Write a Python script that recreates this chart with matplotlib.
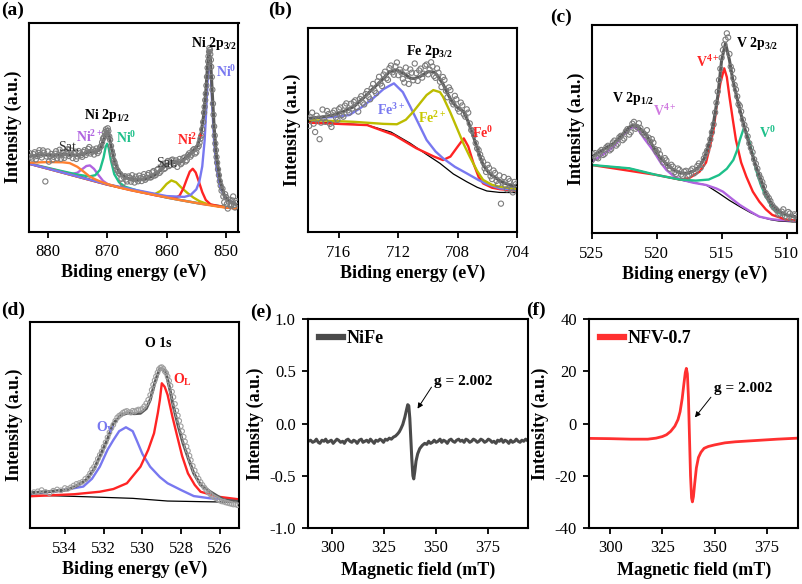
import matplotlib
matplotlib.use('Agg')
import matplotlib.pyplot as plt
from matplotlib.lines import Line2D

plt.rcParams['font.family'] = ['Liberation Serif', 'DejaVu Serif']
plt.rcParams['mathtext.fontset'] = 'custom'
plt.rcParams['mathtext.rm'] = 'Liberation Serif:bold'
plt.rcParams['mathtext.it'] = 'Liberation Serif:bold'
plt.rcParams['mathtext.bf'] = 'Liberation Serif:bold'
plt.rcParams['mathtext.default'] = 'bf'
plt.rcParams['axes.unicode_minus'] = False

# colours
BLUE = '#7878f0'
RED = '#ff2424'
OLIVE = '#bcbc00'
TEAL = '#1ec08a'
PURPLE = '#b064e0'
ORANGE = '#ff8030'
ENV = '#5a5a5a'
DOT = '#7c7c7c'

# ---------------- (a) Ni 2p  (eV, intensity in % of axis height) ----------------
a_base = [(883.1, 32.5), (878, 29.0), (874, 26.0), (870, 22.5), (866, 19.8), (862, 17.5),
          (858, 15.2), (854, 13.2), (851, 11.8), (847.9, 11.0)]
a_ni0_32 = [(883.1, 32.5), (870, 22.6), (860, 17.0), (857, 16.6), (856, 17.4), (855, 20.2),
            (854.5, 23.8), (854, 31.2), (853.6, 43.7), (853.3, 59.8), (853.0, 78.2), (852.8, 83.4),
            (852.6, 78.0), (852.3, 59.3), (852.0, 43.0), (851.6, 30.1), (851.0, 21.1), (850.0, 15.7),
            (847.9, 12.4)]
a_ni2_32 = [(883.1, 32.5), (870, 22.5), (862, 17.5), (858.6, 15.9), (857.8, 17.3), (857.2, 20.5),
            (856.6, 25.1), (856.1, 28.7), (855.6, 30.1), (855.1, 28.3), (854.6, 24.2), (854.0, 18.9),
            (853.4, 15.1), (852.6, 13.0), (850, 11.5), (847.9, 11.0)]
a_sat_32 = [(883.1, 32.5), (870, 22.5), (864, 18.7), (862, 17.9), (861, 19.5), (860, 22.8),
            (859.2, 24.5), (858.4, 23.6), (857.5, 21.0), (856.5, 18.5), (855.5, 16.3), (854.5, 14.6),
            (853, 13.0), (851, 11.9), (847.9, 11.0)]
a_ni0_12 = [(883.1, 32.6), (878, 29.2), (875, 27.3), (873, 26.4), (872, 27.0), (871.2, 29.6),
            (870.6, 35.5), (870.25, 40.6), (870.0, 42.1), (869.75, 40.2), (869.4, 34.5), (868.8, 27.5),
            (868, 23.6), (867, 21.5), (865, 19.7), (860, 16.3), (855, 13.7), (847.9, 11.0)]
a_ni2_12 = [(883.1, 32.5), (878, 29.0), (876, 27.6), (875, 28.2), (874.2, 29.9), (873.5, 31.4),
            (872.9, 31.7), (872.2, 30.0), (871.5, 27.2), (870.7, 24.3), (869.8, 22.5), (866, 19.8),
            (860, 16.3), (854, 13.2), (847.9, 11.0)]
a_sat_12 = [(883.1, 33.0), (880, 33.3), (877.5, 33.2), (876.3, 32.8), (875, 31.0), (874, 28.8),
            (873, 26.5), (872, 25.0), (871, 23.8), (870, 22.8), (868, 21.1), (866, 19.8), (862, 17.5),
            (858, 15.2), (854, 13.2), (851, 11.8), (847.9, 11.0)]
a_env = [(883.1, 36.0), (881, 36.8), (879, 36.5), (877, 37.0), (875, 36.5), (874, 37.0), (873, 38.3),
         (872, 38.0), (871.2, 39.5), (870.6, 44.0), (870.25, 47.0), (870.0, 48.0), (869.7, 46.5),
         (869.3, 40.5), (868.7, 33.0), (868, 28.5), (867, 26.0), (866, 25.0), (865, 24.8), (864, 25.0),
         (863, 25.8), (862, 27.0), (861, 29.5), (860, 32.0), (859.2, 33.3), (858.4, 33.0),
         (857.5, 33.5), (856.6, 36.0), (855.6, 38.5), (854.8, 41.0), (854.2, 47.0), (853.8, 55.0),
         (853.4, 67.0), (853.1, 80.0), (852.85, 86.5), (852.6, 82.0), (852.3, 66.0), (852.0, 50.0),
         (851.6, 36.0), (851.0, 24.5), (850.3, 17.5), (849.5, 14.5), (847.9, 12.5)]
a_data = [(883.0, 37.5), (882.8, 35.9), (882.6, 35.0), (882.4, 37.1), (882.2, 38.0), (882.0, 34.6),
          (881.8, 36.2), (881.6, 37.7), (881.4, 39.0), (881.2, 36.8), (881.0, 35.5), (880.8, 38.9),
          (880.6, 37.8), (880.4, 24.0), (880.2, 36.0), (880.0, 38.4), (879.8, 33.5), (879.6, 36.1),
          (879.4, 37.2), (879.2, 34.4), (879.0, 35.8), (878.8, 37.3), (878.6, 38.5), (878.4, 35.1),
          (878.2, 36.4), (878.0, 39.2), (877.8, 34.9), (877.6, 36.9), (877.4, 38.0), (877.2, 35.3),
          (877.0, 36.5), (876.8, 38.1), (876.6, 39.5), (876.4, 36.2), (876.2, 37.0), (876.0, 38.8),
          (875.8, 35.2), (875.6, 37.4), (875.4, 38.3), (875.2, 34.8), (875.0, 36.0), (874.8, 38.6),
          (874.6, 37.5), (874.4, 36.6), (874.2, 35.8), (874.0, 38.1), (873.8, 39.0), (873.6, 36.7),
          (873.4, 37.8), (873.2, 39.6), (873.0, 40.5), (872.8, 37.4), (872.6, 38.2), (872.4, 39.3),
          (872.2, 36.9), (872.0, 38.6), (871.8, 39.8), (871.6, 37.6), (871.4, 38.5), (871.2, 40.3),
          (871.0, 41.0), (870.85, 42.8), (870.7, 44.5), (870.55, 45.2), (870.4, 47.5), (870.3, 46.2),
          (870.2, 49.0), (870.1, 48.1), (870.0, 47.0), (869.9, 49.5), (869.8, 48.2), (869.65, 45.6),
          (869.5, 44.0), (869.35, 41.0), (869.2, 38.5), (869.05, 36.8), (868.9, 34.0), (868.75, 33.1),
          (868.6, 31.5), (868.4, 29.8), (868.2, 29.0), (868.0, 27.9), (867.8, 27.5), (867.6, 25.4),
          (867.4, 23.0), (867.2, 26.1), (867.0, 26.5), (866.8, 24.9), (866.6, 24.0), (866.4, 26.4),
          (866.2, 25.8), (866.0, 23.9), (865.8, 27.0), (865.6, 25.2), (865.4, 23.5), (865.2, 26.3),
          (865.0, 25.0), (864.8, 24.1), (864.6, 26.8), (864.4, 25.6), (864.2, 24.2), (864.0, 26.2),
          (863.8, 27.5), (863.6, 24.8), (863.4, 25.5), (863.2, 27.1), (863.0, 28.0), (862.8, 25.9),
          (862.6, 26.0), (862.4, 28.4), (862.2, 29.0), (862.0, 26.8), (861.8, 27.2), (861.6, 29.6),
          (861.4, 30.0), (861.2, 28.1), (861.0, 28.8), (860.8, 31.2), (860.6, 32.5), (860.4, 30.0),
          (860.2, 30.5), (860.0, 33.1), (859.8, 33.8), (859.6, 31.4), (859.4, 31.9), (859.2, 34.2),
          (859.0, 34.5), (858.8, 32.0), (858.6, 32.8), (858.4, 34.1), (858.2, 31.0), (858.0, 33.4),
          (857.8, 34.8), (857.6, 32.3), (857.4, 33.0), (857.2, 35.1), (857.0, 35.5), (856.8, 33.6),
          (856.6, 34.2), (856.4, 36.6), (856.2, 37.5), (856.0, 35.9), (855.8, 36.8), (855.6, 38.9),
          (855.4, 39.5), (855.2, 37.4), (855.0, 38.0), (854.8, 40.2), (854.6, 41.0), (854.45, 42.6),
          (854.3, 44.5), (854.15, 46.0), (854.0, 49.0), (853.85, 52.5), (853.7, 57.0), (853.6, 59.8),
          (853.5, 63.0), (853.4, 66.1), (853.3, 70.0), (853.2, 74.2), (853.1, 78.5), (853.0, 81.6),
          (852.95, 84.0), (852.85, 86.2), (852.8, 88.0), (852.7, 87.1), (852.65, 85.0), (852.55, 82.3),
          (852.5, 79.0), (852.4, 74.1), (852.3, 68.0), (852.2, 61.3), (852.1, 56.0), (852.0, 50.4),
          (851.9, 46.0), (851.8, 42.2), (851.7, 39.0), (851.6, 35.7), (851.5, 33.0), (851.35, 29.8),
          (851.2, 27.0), (851.05, 24.1), (850.9, 22.0), (850.75, 19.6), (850.6, 20.5), (850.45, 16.8),
          (850.3, 14.0), (850.15, 17.9), (850.0, 16.5), (849.85, 13.2), (849.7, 11.0), (849.55, 14.3),
          (849.4, 15.2), (849.25, 12.4), (849.1, 13.0), (848.95, 14.9), (848.8, 16.8), (848.65, 12.7),
          (848.5, 11.5), (848.3, 14.6), (848.1, 13.8)]

# ---------------- (b) Fe 2p ----------------
b_base = [(718.1, 54.1), (714.1, 52.4), (712.5, 49.0), (711.2, 43.5), (710.2, 38.5), (709.2, 33.7),
          (708.3, 28.5), (707.4, 24.7), (706.7, 22.0), (706.05, 20.2), (705.2, 19.5), (704.0, 19.4)]
b_fe0 = [(718.1, 53.6), (714.1, 52.4), (712.3, 47.6), (710.8, 41.1), (709.6, 37.0), (709.0, 35.3),
         (708.5, 37.0), (708.0, 42.0), (707.6, 45.9), (707.3, 42.0), (706.95, 33.7), (706.6, 27.0),
         (706.3, 23.9), (705.7, 21.8), (705.2, 21.1), (704.0, 20.3)]
b_fe3 = [(718.1, 55.7), (716.5, 56.3), (715.3, 57.3), (714.5, 61.0), (713.7, 65.5), (713.0, 70.0),
         (712.3, 72.8), (711.7, 68.5), (711.2, 61.4), (710.6, 52.5), (710.1, 45.1), (709.5, 39.5),
         (709.0, 36.2), (708.2, 32.0), (707.4, 28.8), (706.6, 25.5), (706.05, 23.6), (705.2, 21.5),
         (704.0, 20.7)]
b_fe2 = [(718.1, 54.9), (715.0, 54.0), (713.0, 53.0), (712.1, 52.8), (711.5, 55.0), (711.0, 58.9),
         (710.5, 63.5), (710.1, 67.1), (709.65, 69.5), (709.2, 68.5), (709.0, 66.3), (708.5, 58.5),
         (708.1, 51.6), (707.6, 43.0), (707.2, 37.0), (706.7, 30.0), (706.3, 25.6), (705.7, 23.2),
         (705.2, 22.3), (704.0, 21.1)]
b_env = [(718.1, 55.7), (717.2, 56.3), (716.4, 57.3), (715.7, 59.0), (715.0, 61.4), (714.3, 66.0),
         (713.7, 70.3), (713.1, 74.5), (712.6, 78.5), (712.1, 79.3), (711.6, 77.5), (711.2, 75.3),
         (710.9, 75.2), (710.55, 76.1), (710.0, 78.5), (709.6, 78.3), (709.4, 76.9), (709.0, 72.5),
         (708.7, 67.9), (708.4, 64.0), (708.1, 61.4), (707.6, 58.9), (707.3, 54.0), (706.95, 46.7),
         (706.6, 39.0), (706.3, 32.9), (705.9, 29.0), (705.6, 27.2), (705.0, 24.5), (704.5, 23.0),
         (704.0, 22.3)]
b_data = [(718.0, 52.0), (717.9, 56.2), (717.8, 58.5), (717.7, 53.1), (717.6, 49.0), (717.5, 57.0),
          (717.4, 55.5), (717.3, 45.5), (717.2, 53.6), (717.1, 60.0), (717.0, 55.8), (716.9, 54.0),
          (716.8, 59.3), (716.7, 57.8), (716.6, 53.0), (716.5, 51.5), (716.4, 58.4), (716.3, 59.5),
          (716.2, 56.1), (716.1, 55.0), (716.0, 60.2), (715.9, 61.0), (715.8, 57.3), (715.7, 56.5),
          (715.6, 61.9), (715.5, 63.0), (715.4, 59.6), (715.3, 58.5), (715.2, 62.8), (715.1, 60.5),
          (715.0, 63.7), (714.9, 64.5), (714.8, 61.2), (714.7, 59.0), (714.6, 65.2), (714.5, 66.5),
          (714.4, 63.3), (714.3, 62.5), (714.2, 67.6), (714.1, 69.0), (714.0, 66.2), (713.9, 65.0),
          (713.8, 70.4), (713.7, 72.5), (713.6, 69.1), (713.5, 68.0), (713.4, 73.8), (713.3, 76.0),
          (713.2, 72.7), (713.1, 71.5), (713.0, 77.1), (712.9, 78.5), (712.8, 75.3), (712.7, 74.5),
          (712.6, 80.2), (712.5, 81.5), (712.4, 78.2), (712.3, 77.0), (712.2, 81.1), (712.1, 83.0),
          (712.0, 76.8), (711.9, 79.5), (711.8, 78.1), (711.7, 75.0), (711.6, 73.2), (711.5, 80.5),
          (711.4, 76.6), (711.3, 72.5), (711.2, 79.6), (711.1, 78.0), (711.0, 74.3), (710.9, 82.5),
          (710.8, 77.8), (710.7, 74.0), (710.6, 79.1), (710.5, 80.0), (710.4, 75.6), (710.3, 77.5),
          (710.2, 81.4), (710.1, 82.0), (710.0, 77.2), (709.9, 79.5), (709.8, 83.1), (709.7, 81.0),
          (709.6, 76.4), (709.5, 75.5), (709.4, 80.1), (709.3, 78.0), (709.2, 73.6), (709.1, 71.0),
          (709.0, 75.9), (708.9, 74.5), (708.8, 69.2), (708.7, 66.0), (708.6, 70.8), (708.5, 69.5),
          (708.4, 63.9), (708.3, 62.5), (708.2, 66.7), (708.1, 65.0), (708.0, 60.4), (707.9, 59.0),
          (707.8, 63.4), (707.7, 62.0), (707.6, 57.7), (707.5, 56.5), (707.4, 60.1), (707.3, 58.5),
          (707.2, 53.2), (707.1, 50.0), (707.0, 49.3), (706.9, 47.5), (706.8, 43.6), (706.7, 41.0),
          (706.6, 40.2), (706.5, 38.0), (706.4, 36.1), (706.3, 34.5), (706.2, 31.3), (706.1, 29.5),
          (706.0, 33.0), (705.9, 31.5), (705.8, 27.4), (705.7, 26.0), (705.6, 30.2), (705.5, 29.0),
          (705.4, 25.1), (705.3, 23.5), (705.2, 27.8), (705.1, 14.0), (705.0, 24.3), (704.9, 27.0),
          (704.8, 22.9), (704.7, 21.0), (704.6, 26.1), (704.5, 25.0), (704.4, 20.8), (704.3, 19.5),
          (704.2, 24.6), (704.1, 23.5)]

# ---------------- (c) V 2p ----------------
c_base = [(525, 32.8), (522.1, 31.2), (520, 28.0), (518.2, 25.6), (516.2, 23.2), (515.2, 19.2),
          (514.4, 15.8), (513.6, 12.8), (512.8, 10.0), (512.1, 8.0), (511.2, 6.5), (510.6, 5.9),
          (509.2, 5.4)]
c_v4_12 = [(525, 34.4), (524.2, 37.5), (523.3, 41.6), (522.6, 47.0), (522.1, 50.0), (521.8, 51.2),
           (521.4, 49.5), (520.9, 45.0), (520.3, 40.0), (519.7, 34.0), (519.25, 30.4), (518.7, 27.5),
           (518.2, 25.9), (517.2, 24.3), (516.2, 23.2), (515.4, 21.5), (514.9, 20.0), (514.2, 16.5),
           (513.6, 13.6), (512.8, 10.5), (512.1, 8.0), (511.2, 6.8), (510.6, 6.4), (509.2, 5.9)]
c_v4_32 = [(525, 32.8), (520, 28.0), (518.2, 25.8), (517.5, 26.5), (516.7, 29.6), (516.2, 34.0),
           (515.9, 41.6), (515.6, 50.5), (515.4, 60.8), (515.1, 72.0), (514.8, 79.2), (514.6, 75.0),
           (514.4, 65.6), (514.15, 55.0), (513.9, 44.8), (513.5, 34.0), (513.1, 27.2), (512.6, 20.0),
           (512.1, 15.2), (511.6, 11.5), (511.1, 8.8), (510.05, 6.6), (509.2, 6.2)]
c_v0 = [(525, 32.8), (522.1, 31.2), (520, 28.0), (518.2, 25.8), (517.0, 25.3), (516.0, 25.8),
        (515.2, 28.0), (514.6, 31.0), (514.1, 35.2), (513.8, 40.0), (513.6, 44.8), (513.3, 50.4),
        (513.1, 48.5), (512.9, 44.8), (512.6, 37.5), (512.35, 30.4), (512.0, 23.5), (511.6, 17.6),
        (511.1, 12.5), (510.55, 9.6), (509.2, 7.4)]
c_env = [(525.0, 36.8), (524.4, 39.0), (523.8, 41.5), (523.3, 43.2), (522.7, 47.0), (522.1, 51.0),
         (521.8, 52.0), (521.4, 51.0), (520.8, 47.2), (520.3, 42.0), (519.8, 36.8), (519.2, 33.0),
         (518.7, 30.4), (518.2, 29.0), (517.7, 28.8), (517.2, 29.8), (516.7, 32.0), (516.3, 36.5),
         (515.9, 44.8), (515.6, 54.0), (515.3, 65.6), (515.0, 83.2), (514.7, 91.2), (514.4, 83.2),
         (514.15, 74.0), (513.9, 67.2), (513.6, 59.5), (513.4, 54.4), (512.9, 43.2), (512.35, 32.0),
         (511.9, 24.5), (511.6, 19.2), (511.1, 13.5), (510.55, 10.4), (510.0, 8.8), (509.2, 7.8)]
c_data = [(525.0, 35.0), (524.87, 37.9), (524.75, 38.5), (524.62, 36.4), (524.5, 36.0), (524.37, 39.2),
          (524.25, 40.0), (524.12, 37.6), (524.0, 38.2), (523.87, 41.3), (523.75, 42.0), (523.62, 39.8),
          (523.5, 40.5), (523.37, 43.6), (523.25, 44.5), (523.12, 42.1), (523.0, 43.0), (522.87, 46.1),
          (522.75, 46.8), (522.62, 44.7), (522.5, 45.5), (522.37, 48.9), (522.25, 50.0), (522.12, 47.4),
          (522.0, 48.5), (521.87, 52.6), (521.75, 53.5), (521.62, 50.2), (521.5, 51.0), (521.37, 52.8),
          (521.25, 50.5), (521.12, 48.6), (521.0, 48.0), (520.87, 47.1), (520.75, 49.5), (520.62, 45.9),
          (520.5, 44.0), (520.37, 45.2), (520.25, 43.5), (520.12, 40.4), (520.0, 39.0), (519.87, 39.9),
          (519.75, 38.0), (519.62, 35.6), (519.5, 34.0), (519.37, 36.1), (519.25, 35.0), (519.12, 32.4),
          (519.0, 31.0), (518.87, 32.9), (518.75, 32.0), (518.62, 29.4), (518.5, 28.5), (518.37, 31.1),
          (518.25, 30.5), (518.12, 28.2), (518.0, 27.5), (517.87, 29.6), (517.75, 30.0), (517.62, 27.3),
          (517.5, 28.0), (517.37, 30.2), (517.25, 31.0), (517.12, 28.8), (517.0, 29.5), (516.87, 32.3),
          (516.75, 33.5), (516.62, 31.4), (516.5, 33.0), (516.37, 35.9), (516.25, 38.0), (516.12, 39.6),
          (516.0, 42.0), (515.87, 45.1), (515.75, 48.5), (515.62, 52.3), (515.5, 58.0), (515.4, 62.7),
          (515.3, 68.0), (515.2, 73.6), (515.1, 79.0), (515.0, 84.3), (514.9, 88.0), (514.8, 90.6),
          (514.7, 93.0), (514.6, 96.0), (514.5, 94.0), (514.4, 86.1), (514.3, 80.0), (514.2, 78.3),
          (514.1, 74.5), (514.0, 71.2), (513.9, 69.0), (513.8, 65.7), (513.7, 62.0), (513.6, 61.1),
          (513.5, 58.5), (513.37, 54.6), (513.25, 52.0), (513.12, 49.8), (513.0, 46.5), (512.87, 43.2),
          (512.75, 41.0), (512.62, 38.9), (512.5, 35.5), (512.37, 33.4), (512.25, 31.0), (512.12, 28.1),
          (512.0, 26.5), (511.87, 24.6), (511.75, 22.5), (511.62, 19.3), (511.5, 18.0), (511.37, 16.9),
          (511.25, 15.5), (511.12, 13.6), (511.0, 12.5), (510.87, 11.8), (510.75, 11.0), (510.62, 9.1),
          (510.5, 9.5), (510.37, 10.4), (510.25, 11.5), (510.12, 8.3), (510.0, 7.5), (509.87, 10.2),
          (509.75, 9.5), (509.62, 7.2), (509.5, 6.5), (509.4, 9.1), (509.3, 8.5)]

# ---------------- (d) O 1s ----------------
d_base = [(535.8, 16.1), (533, 15.3), (530.5, 14.5), (528.7, 13.2), (527, 12.9), (525, 12.6)]
d_ov = [(535.8, 16.9), (534.5, 17.8), (533.05, 20.2), (532.6, 24.0), (532.2, 29.8), (531.8, 38.0),
        (531.5, 42.7), (531.2, 47.0), (530.85, 48.9), (530.5, 47.0), (530.3, 42.7), (530.0, 36.0),
        (529.6, 29.8), (529.1, 24.8), (528.7, 21.8), (528.0, 18.5), (527.35, 15.6), (526.5, 14.5),
        (525.0, 13.7)]
d_ol = [(535.8, 15.5), (533.5, 16.5), (532.2, 17.7), (531.5, 19.0), (530.8, 21.8), (530.1, 29.8),
        (529.7, 38.0), (529.4, 46.0), (529.2, 56.0), (529.1, 62.1), (529.0, 70.2), (528.85, 68.5),
        (528.7, 64.6), (528.45, 54.0), (528.2, 44.4), (527.95, 35.0), (527.65, 26.6), (527.3, 21.0),
        (527.0, 17.7), (526.1, 15.3), (525.0, 14.0)]
d_env = [(535.8, 17.2), (534.8, 17.8), (533.9, 18.6), (533.4, 20.5), (532.9, 23.4), (532.5, 28.5),
         (532.2, 34.7), (531.8, 43.0), (531.5, 50.8), (531.1, 54.8), (530.8, 55.7), (530.4, 55.5),
         (530.1, 55.7), (529.8, 58.0), (529.6, 62.1), (529.4, 69.0), (529.25, 73.4), (529.1, 77.4),
         (528.95, 77.0), (528.8, 75.8), (528.6, 68.0), (528.4, 58.9), (528.15, 49.5), (527.9, 41.1),
         (527.6, 33.0), (527.35, 26.6), (527.0, 21.0), (526.5, 17.7), (525.8, 13.7), (525.0, 12.9)]
d_data = [(535.6, 17.5), (535.4, 17.9), (535.2, 18.5), (535.0, 17.6), (534.8, 17.0), (534.6, 18.2),
          (534.4, 18.8), (534.2, 18.4), (534.0, 19.5), (533.85, 19.1), (533.7, 19.8), (533.55, 20.7),
          (533.4, 21.5), (533.25, 21.9), (533.1, 22.5), (532.95, 23.9), (532.8, 25.0), (532.7, 26.6),
          (532.6, 28.5), (532.5, 29.7), (532.4, 31.5), (532.3, 33.6), (532.2, 35.5), (532.1, 37.3),
          (532.0, 39.5), (531.9, 41.6), (531.8, 44.0), (531.7, 46.4), (531.6, 48.5), (531.5, 50.1),
          (531.4, 52.0), (531.3, 53.6), (531.2, 54.5), (531.1, 55.1), (531.0, 56.0), (530.9, 56.5),
          (530.8, 56.8), (530.7, 56.2), (530.6, 56.0), (530.5, 56.9), (530.4, 56.5), (530.3, 57.1),
          (530.2, 57.5), (530.1, 57.3), (530.0, 58.0), (529.9, 59.1), (529.8, 60.5), (529.7, 62.2),
          (529.6, 64.5), (529.52, 67.0), (529.45, 69.5), (529.37, 71.6), (529.3, 73.5), (529.22, 75.4),
          (529.15, 77.0), (529.07, 77.8), (529.0, 78.0), (528.92, 77.3), (528.85, 76.0), (528.77, 75.1),
          (528.7, 73.5), (528.62, 71.4), (528.55, 69.0), (528.47, 66.1), (528.4, 63.5), (528.32, 60.2),
          (528.25, 57.0), (528.17, 54.6), (528.1, 52.0), (528.02, 49.4), (527.95, 47.0), (527.87, 44.3),
          (527.8, 42.0), (527.72, 39.6), (527.65, 37.5), (527.57, 35.1), (527.5, 33.0), (527.4, 30.2),
          (527.3, 28.0), (527.2, 25.8), (527.1, 24.0), (527.0, 22.4), (526.9, 21.0), (526.8, 19.7),
          (526.7, 18.5), (526.6, 17.4), (526.5, 16.5), (526.4, 15.6), (526.3, 15.0), (526.2, 14.5),
          (526.1, 14.0), (526.0, 13.4), (525.9, 13.0), (525.8, 12.9), (525.7, 12.5), (525.6, 12.3),
          (525.5, 12.0), (525.4, 11.8), (525.3, 11.5), (525.2, 11.6), (525.1, 11.2)]

# ---------------- (e) EPR NiFe ----------------
e_nife = [(288.4, -0.17), (289.5, -0.16), (290.5, -0.18), (291.5, -0.17), (292.3, -0.15),
          (293.2, -0.18), (294.0, -0.19), (295.0, -0.16), (296.0, -0.17), (296.8, -0.15),
          (297.7, -0.18), (298.6, -0.17), (299.5, -0.16), (300.4, -0.19), (301.3, -0.17),
          (302.2, -0.15), (303.0, -0.16), (304.0, -0.18), (305.0, -0.17), (305.8, -0.19),
          (306.7, -0.16), (307.6, -0.15), (308.5, -0.17), (309.4, -0.18), (310.3, -0.16),
          (311.2, -0.17), (312.0, -0.19), (313.0, -0.16), (314.0, -0.15), (314.8, -0.18),
          (315.7, -0.17), (316.6, -0.16), (317.5, -0.18), (318.4, -0.15), (319.3, -0.17),
          (320.2, -0.19), (321.0, -0.16), (322.0, -0.17), (323.0, -0.15), (323.8, -0.16),
          (324.7, -0.18), (325.6, -0.15), (326.5, -0.16), (327.5, -0.14), (328.5, -0.15),
          (329.5, -0.13), (330.5, -0.12), (331.5, -0.10), (332.3, -0.08), (333.1, -0.05),
          (334.0, -0.01), (335.0, 0.06), (335.8, 0.13), (336.4, 0.18), (336.9, 0.17), (337.4, 0.05),
          (337.9, -0.15), (338.4, -0.35), (338.9, -0.50), (339.3, -0.53), (339.8, -0.46),
          (340.4, -0.36), (341.2, -0.29), (342.2, -0.24), (343.4, -0.21), (344.6, -0.19),
          (345.6, -0.20), (346.5, -0.17), (347.4, -0.19), (348.3, -0.18), (349.2, -0.16),
          (350.1, -0.18), (351.0, -0.17), (352.0, -0.15), (352.8, -0.18), (353.7, -0.16),
          (354.6, -0.17), (355.5, -0.19), (356.4, -0.16), (357.3, -0.15), (358.2, -0.17),
          (359.1, -0.18), (360.0, -0.16), (361.0, -0.15), (361.8, -0.17), (362.7, -0.16),
          (363.6, -0.18), (364.5, -0.15), (365.4, -0.16), (366.3, -0.18), (367.2, -0.17),
          (368.1, -0.15), (369.0, -0.16), (370.0, -0.18), (370.8, -0.17), (371.7, -0.15),
          (372.6, -0.16), (373.5, -0.18), (374.4, -0.17), (375.3, -0.15), (376.2, -0.16),
          (377.1, -0.18), (378.0, -0.17), (379.0, -0.19), (379.8, -0.16), (380.7, -0.17),
          (381.6, -0.15), (382.5, -0.18), (383.4, -0.16), (384.3, -0.17), (385.2, -0.19),
          (386.1, -0.16), (387.0, -0.18), (388.0, -0.17), (388.8, -0.15), (389.7, -0.17),
          (390.6, -0.18), (391.5, -0.16), (392.4, -0.17), (393.3, -0.15), (394.6, -0.17)]

# ---------------- (f) EPR NFV-0.7 ----------------
f_nfv = [(290, -5.7), (300, -5.8), (310, -6.0), (318, -6.0), (322, -5.6), (325, -5.0), (327, -4.3),
         (329, -3.0), (331, -1.0), (332.5, 1.5), (333.5, 4.5), (334.5, 9.5), (335.3, 15.0),
         (336.0, 19.5), (336.5, 21.1), (337.0, 19.0), (337.5, 10.0), (338.0, -5.0), (338.5, -20.0),
         (339.0, -28.5), (339.4, -30.0), (339.9, -28.0), (340.5, -23.0), (341.3, -17.0),
         (342.3, -13.0), (343.5, -11.0), (345, -9.5), (347, -8.8), (350, -8.2), (355, -7.4),
         (360, -7.0), (370, -6.5), (380, -6.0), (390, -5.6)]

W, H = 803, 584


def rect(l, t, r, b):
    return [l / W, 1 - b / H, (r - l) / W, (b - t) / H]


def line(ax, pts, color, lw=1.7):
    x, y = zip(*pts)
    ax.plot(x, y, color=color, lw=lw, solid_capstyle='round')


def dots(ax, pts, color=DOT, s=14):
    x, y = zip(*pts)
    ax.scatter(x, y, s=s, facecolors='none', edgecolors=color, linewidths=0.8, zorder=3)


def style(ax):
    for s in ax.spines.values():
        s.set_linewidth(1.5)
    ax.tick_params(direction='out', length=4, width=1.3, labelsize=12, pad=5)


def xps(r, xlim, ticks):
    ax = fig.add_axes(r)
    ax.set_xlim(*xlim)
    ax.set_ylim(0, 100)
    ax.set_yticks([])
    ax.set_xticks(ticks)
    ax.set_xlabel('Biding energy (eV)', fontsize=13, fontweight='bold', labelpad=3)
    ax.set_ylabel('Intensity (a.u.)', fontsize=13, fontweight='bold', labelpad=5)
    style(ax)
    return ax


def lab(ax, x, y, s, c='black', size=10, weight='bold'):
    ax.text(x, y, s, color=c, fontsize=size, fontweight=weight, ha='center', va='center', zorder=5)


fig = plt.figure(figsize=(8.03, 5.84), dpi=100)

# (a)
ax = xps(rect(29.3, 23, 238.5, 231.5), (883.1, 847.9), [880, 870, 860, 850])
line(ax, a_base, 'black', 0.9)
line(ax, a_ni2_12, PURPLE)
line(ax, a_ni0_12, TEAL)
line(ax, a_sat_32, OLIVE)
line(ax, a_ni2_32, RED)
line(ax, a_ni0_32, BLUE)
line(ax, a_sat_12, ORANGE)
dots(ax, a_data)
line(ax, a_env, ENV, 2.2)
lab(ax, 852.1, 90.2, 'Ni 2p$_{3/2}$')
lab(ax, 849.9, 76.6, 'Ni$^0$', BLUE)
lab(ax, 870.0, 55.8, 'Ni 2p$_{1/2}$')
lab(ax, 872.9, 45.3, 'Ni$^{2+}$', PURPLE)
lab(ax, 866.8, 44.8, 'Ni$^0$', TEAL)
lab(ax, 876.4, 40.5, 'Sat.', '#333333', 10, 'normal')
lab(ax, 860.0, 32.5, 'Sat.', '#333333', 10, 'normal')
lab(ax, 856.0, 43.8, 'Ni$^{2+}$', RED)

# (b)
ax = xps(rect(307.7, 27.7, 517.3, 232.3), (718.1, 704.0), [716, 712, 708, 704])
line(ax, b_base, 'black', 0.9)
line(ax, b_fe0, RED)
line(ax, b_fe3, BLUE)
line(ax, b_fe2, OLIVE)
dots(ax, b_data)
line(ax, b_env, ENV, 2.2)
lab(ax, 709.9, 88.3, 'Fe 2p$_{3/2}$')
lab(ax, 712.5, 59.8, 'Fe$^{3+}$', BLUE)
lab(ax, 709.75, 55.7, 'Fe$^{2+}$', '#c8c800')
lab(ax, 706.3, 48.4, 'Fe$^0$', RED)

# (c)
ax = xps(rect(591.7, 25, 797, 233.3), (525, 509.2), [525, 520, 515, 510])
line(ax, c_base, 'black', 0.9)
line(ax, c_v4_12, PURPLE)
line(ax, c_v4_32, RED)
line(ax, c_v0, TEAL)
dots(ax, c_data)
line(ax, c_env, ENV, 2.2)
lab(ax, 512.25, 91.2, 'V 2p$_{3/2}$')
lab(ax, 516.1, 82.4, 'V$^{4+}$', RED)
lab(ax, 521.8, 64.5, 'V 2p$_{1/2}$')
lab(ax, 519.4, 58.8, 'V$^{4+}$', '#d07ae0')
lab(ax, 511.5, 48.0, 'V$^0$', TEAL)

# (d)
ax = xps(rect(30, 321.7, 239.3, 528.3), (535.8, 525.0), [534, 532, 530, 528, 526])
line(ax, d_base, 'black', 0.9)
line(ax, d_ov, BLUE)
line(ax, d_ol, RED)
dots(ax, d_data, '#a0a0a0', 11)
line(ax, d_env, ENV, 2.2)
lab(ax, 529.2, 89.5, 'O 1s')
lab(ax, 527.95, 71.8, 'O$_L$', RED)
lab(ax, 531.9, 48.4, 'O$_V$', BLUE)

# (e)
ax = fig.add_axes(rect(308.3, 319, 528.3, 528))
x, y = zip(*e_nife)
ax.plot(x, y, color='#4a4a4a', lw=2.2)
ax.set_xlim(288.4, 394.6)
ax.set_ylim(-1, 1)
ax.set_xticks([300, 325, 350, 375])
ax.set_yticks([-1, -0.5, 0, 0.5, 1])
ax.set_yticklabels(['-1.0', '-0.5', '0.0', '0.5', '1.0'])
ax.set_xlabel('Magnetic field (mT)', fontsize=13, fontweight='bold')
ax.set_ylabel('Intensity (a.u.)', fontsize=13, fontweight='bold', labelpad=4)
style(ax)
ax.legend([Line2D([], [], color='#4a4a4a', lw=4.5)], ['NiFe'], loc='upper left', frameon=False,
          prop={'weight': 'bold', 'size': 13}, handlelength=1.3, handletextpad=0.2,
          borderaxespad=0.4, borderpad=0.2)
ax.text(363.3, 0.40, 'g = 2.002', fontsize=11, fontweight='bold', ha='center', va='center')
ax.annotate('', xy=(340.4, 0.12), xytext=(348.6, 0.37),
            arrowprops=dict(arrowstyle='-|>', color='black', lw=0.7, mutation_scale=8))

# (f)
ax = fig.add_axes(rect(589.3, 319, 798, 528))
x, y = zip(*f_nfv)
ax.plot(x, y, color='#ff3030', lw=2.0)
ax.set_xlim(290, 390)
ax.set_ylim(-40, 40)
ax.set_xticks([300, 325, 350, 375])
ax.set_yticks([-40, -20, 0, 20, 40])
ax.set_xlabel('Magnetic field (mT)', fontsize=13, fontweight='bold')
ax.set_ylabel('Intensity (a.u.)', fontsize=13, fontweight='bold', labelpad=4)
style(ax)
ax.legend([Line2D([], [], color='#ff3030', lw=4.5)], ['NFV-0.7'], loc='upper left', frameon=False,
          prop={'weight': 'bold', 'size': 13}, handlelength=1.3, handletextpad=0.2,
          borderaxespad=0.4, borderpad=0.2)
ax.text(363.5, 13.5, 'g = 2.002', fontsize=11, fontweight='bold', ha='center', va='center')
ax.annotate('', xy=(339.8, 1.5), xytext=(349.1, 10.9),
            arrowprops=dict(arrowstyle='-|>', color='black', lw=0.7, mutation_scale=8))

# panel letters
for px, py, s in [(1, 10, '(a)'), (268, 10, '(b)'), (550, 17, '(c)'),
                  (1, 310, '(d)'), (250, 312, '(e)'), (526, 310, '(f)')]:
    fig.text(px / W, 1 - py / H, s, fontsize=14, fontweight='bold', va='center', ha='left')

fig.savefig('out.png', dpi=100)
